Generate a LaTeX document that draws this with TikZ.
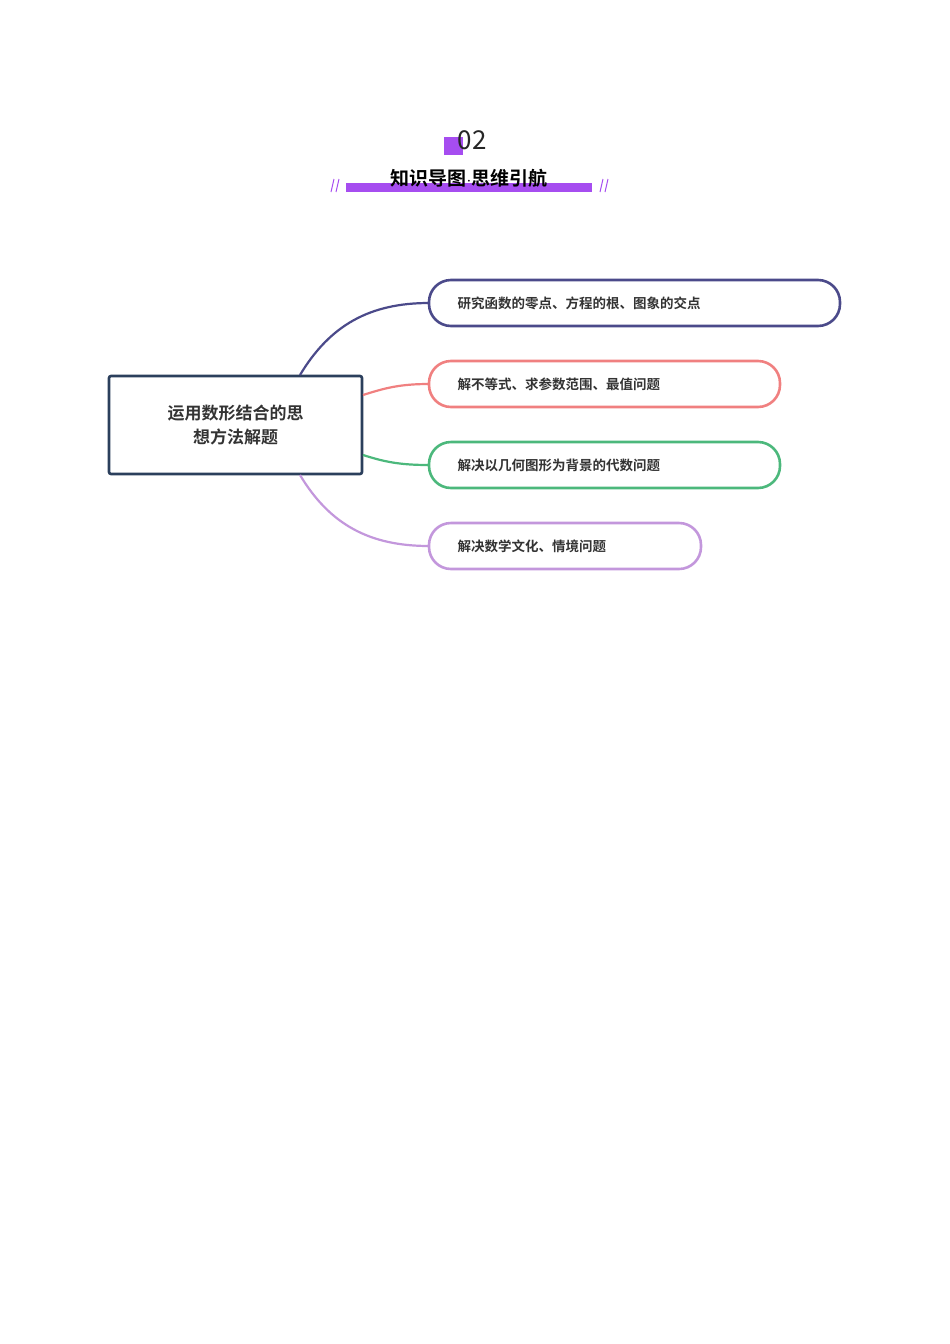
\documentclass[tikz,border=0pt]{standalone}
\usepackage{fontspec}
\setmainfont{Noto Sans CJK SC}
\newfontfamily\cjkb{Noto Sans CJK SC Bold}
\definecolor{cnavy}{HTML}{2B3F5C}
\definecolor{cpur}{HTML}{4B4A8A}
\definecolor{csal}{HTML}{F08080}
\definecolor{cgrn}{HTML}{4CB87C}
\definecolor{clil}{HTML}{C397DC}
\definecolor{cvio}{HTML}{A64DF0}
\definecolor{ctxt}{HTML}{333333}
\begin{document}
\begin{tikzpicture}[x=1pt,y=-1pt,
 pill/.style={draw=#1,line width=2.6pt,rounded corners=22pt,inner sep=0pt,anchor=north west},
 conn/.style={draw=#1,line width=2.2pt},
 lab/.style={font=\cjkb\fontsize{13.5}{15}\selectfont,text=ctxt,anchor=west}]
\useasboundingbox (0,0) rectangle (950,1344);
\fill[cvio] (444,137) rectangle (463,155);
\node[font=\fontsize{26}{28}\selectfont,text=black!85] (num) at (472,140) {02};
\fill[cvio] (346,183) rectangle (592,192);
\node[font=\cjkb\fontsize{19}{21}\selectfont] (title) at (469,178) {知识导图$\cdot$思维引航};
\foreach \x in {331,336,600,605}{\draw[cvio,line width=1pt] (\x,192) -- (\x+3,179);}
\node[draw=cnavy,line width=2.6pt,rounded corners=2pt,minimum width=253pt,minimum height=98pt,align=center,font=\cjkb\fontsize{17}{24}\selectfont,text=ctxt] (c) at (235.5,425) {运用数形结合的思\\想方法解题};
\draw[pill=cpur] (429,280) rectangle (840,326);
\node[lab] (a) at (454,303) {研究函数的零点、方程的根、图象的交点};
\draw[pill=csal] (429,361) rectangle (780,407);
\node[lab] (b) at (454,384) {解不等式、求参数范围、最值问题};
\draw[pill=cgrn] (429,442) rectangle (780,488);
\node[lab] (d) at (454,465) {解决以几何图形为背景的代数问题};
\draw[pill=clil] (429,523) rectangle (701,569);
\node[lab] (e) at (454,546) {解决数学文化、情境问题};
\coordinate (a0) at (429,303); \coordinate (b0) at (429,384);
\coordinate (d0) at (429,465); \coordinate (e0) at (429,546);
\draw[conn=cpur] (300,375) .. controls (330,325) and (370,303) .. (a0);
\draw[conn=csal] (363,395) .. controls (385,388) and (400,384) .. (b0);
\draw[conn=cgrn] (363,455) .. controls (385,462) and (400,465) .. (d0);
\draw[conn=clil] (300,475) .. controls (330,525) and (370,546) .. (e0);
\end{tikzpicture}
\end{document}
